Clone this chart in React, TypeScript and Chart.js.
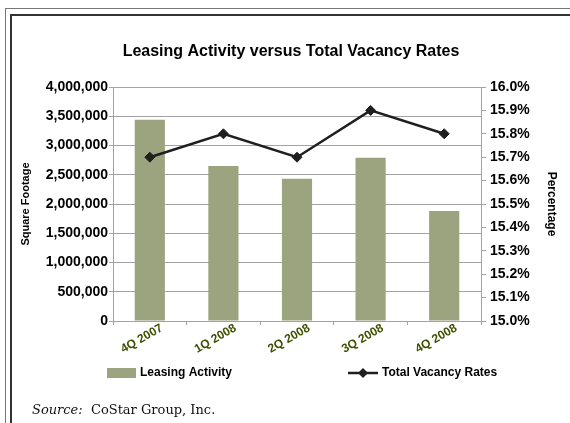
import React, { useEffect, useRef } from "react";
import { Chart, registerables } from "chart.js";

Chart.register(...registerables);

const categories = ["4Q 2007", "1Q 2008", "2Q 2008", "3Q 2008", "4Q 2008"];
const leasingActivity = [3440000, 2650000, 2430000, 2790000, 1880000];
const vacancyRates = [15.7, 15.8, 15.7, 15.9, 15.8];
const leftTicks = { min: 0, max: 4000000, step: 500000 };
const rightTicks = { min: 15.0, max: 16.0, step: 0.1 };

const BAR_COLOR = "#9ca37f";
const LINE_COLOR = "#1f1f1f";
const GRID = "#a3a3a3";
const FONT = "'Liberation Sans', Arial, sans-serif";

const legendPlugin = {
  id: "customLegend",
  afterDraw(chart: any) {
    const { ctx, chartArea } = chart;
    const y = 373;
    ctx.save();
    ctx.font = `bold 12px ${FONT}`;
    ctx.textBaseline = "middle";
    const bx = chartArea.left - 6;
    ctx.fillStyle = BAR_COLOR;
    ctx.fillRect(bx, y - 5, 29, 10);
    ctx.fillStyle = "#000";
    ctx.fillText("Leasing Activity", bx + 33, y);
    const lx = chartArea.left + 235;
    ctx.strokeStyle = LINE_COLOR;
    ctx.lineWidth = 2.5;
    ctx.beginPath();
    ctx.moveTo(lx, y);
    ctx.lineTo(lx + 30, y);
    ctx.stroke();
    ctx.fillStyle = LINE_COLOR;
    ctx.beginPath();
    const cx = lx + 15;
    ctx.moveTo(cx, y - 5);
    ctx.lineTo(cx + 5, y);
    ctx.lineTo(cx, y + 5);
    ctx.lineTo(cx - 5, y);
    ctx.closePath();
    ctx.fill();
    ctx.fillStyle = "#000";
    ctx.fillText("Total Vacancy Rates", lx + 34, y);
    ctx.restore();
  },
};

export default function App() {
  const ref = useRef<HTMLCanvasElement>(null);

  useEffect(() => {
    if (!ref.current) return;
    const chart = new Chart(ref.current, {
      type: "bar",
      data: {
        labels: categories,
        datasets: [
          {
            type: "line",
            label: "Total Vacancy Rates",
            data: vacancyRates,
            yAxisID: "y1",
            borderColor: LINE_COLOR,
            borderWidth: 2.5,
            pointStyle: "rectRot",
            pointRadius: 5,
            pointBackgroundColor: LINE_COLOR,
            pointBorderColor: LINE_COLOR,
            pointBorderWidth: 1,
            tension: 0,
            order: 1,
          } as any,
          {
            type: "bar",
            label: "Leasing Activity",
            data: leasingActivity,
            yAxisID: "y",
            backgroundColor: BAR_COLOR,
            borderWidth: 0,
            barPercentage: 0.41,
            categoryPercentage: 1.0,
            order: 2,
          },
        ],
      },
      options: {
        animation: false,
        responsive: false,
        maintainAspectRatio: false,
        layout: { padding: { left: 15, right: 3, top: 42, bottom: 52 } },
        plugins: {
          legend: { display: false },
          tooltip: { enabled: false },
          title: {
            display: true,
            text: "Leasing Activity versus Total Vacancy Rates",
            color: "#000",
            font: { family: FONT, size: 16, weight: "bold" },
            padding: { top: 0, bottom: 25.8 },
          },
        },
        scales: {
          x: {
            grid: {
              display: true,
              drawOnChartArea: false,
              drawTicks: true,
              tickLength: 4,
              color: GRID,
              offset: true,
            },
            border: { color: GRID, width: 1 },
            ticks: {
              autoSkip: false,
              minRotation: 30,
              maxRotation: 30,
              labelOffset: 12,
              padding: -4,
              color: "#3c5000",
              font: { family: FONT, size: 12, weight: "bold" },
            },
            afterFit(scale: any) {
              scale.height = 50;
            },
          },
          y: {
            position: "left",
            min: leftTicks.min,
            max: leftTicks.max,
            ticks: {
              stepSize: leftTicks.step,
              padding: 1,
              color: "#000",
              font: { family: FONT, size: 14, weight: "bold" },
              callback: (v: any) => Number(v).toLocaleString("en-US"),
            },
            grid: { color: GRID, tickLength: 4, lineWidth: 1 },
            border: { color: GRID, width: 1 },
            title: {
              display: true,
              text: "Square Footage",
              color: "#000",
              font: { family: FONT, size: 11, weight: "bold" },
              padding: { top: 4, bottom: 4 },
            },
            afterFit(scale: any) {
              scale.width = 98;
            },
          },
          y1: {
            position: "right",
            min: rightTicks.min,
            max: rightTicks.max,
            ticks: {
              stepSize: rightTicks.step,
              padding: 4,
              color: "#000",
              font: { family: FONT, size: 14, weight: "bold" },
              callback: (v: any) => Number(v).toFixed(1) + "%",
            },
            grid: { drawOnChartArea: false, color: GRID, tickLength: 5 },
            border: { color: GRID, width: 1 },
            title: {
              display: true,
              text: "Percentage",
              color: "#000",
              font: { family: FONT, size: 12, weight: "bold" },
              padding: { top: 8, bottom: 4 },
            },
            afterFit(scale: any) {
              scale.width = 86;
            },
          },
        },
      },
      plugins: [legendPlugin],
    });
    return () => chart.destroy();
  }, []);

  return (
    <div
      style={{
        position: "fixed",
        left: 0,
        top: 0,
        width: 570,
        height: 423,
        background: "#fff",
        overflow: "hidden",
      }}
    >
      <div style={{ position: "absolute", left: 5, top: 8, width: 600, height: 500, borderLeft: "1.5px solid #777", borderTop: "1.5px solid #777" }} />
      <div style={{ position: "absolute", left: 10, top: 14, width: 600, height: 500, borderLeft: "2px solid #333", borderTop: "2px solid #333" }} />
      <canvas ref={ref} width={570} height={423} style={{ position: "absolute", left: 0, top: 0, width: 570, height: 423 }} />
      <div
        style={{
          position: "absolute",
          left: 32,
          top: 402,
          fontFamily: "'DejaVu Serif', serif",
          fontSize: 13,
          color: "#111",
          whiteSpace: "pre",
        }}
      >
        <i>Source:</i>
        {"  CoStar Group, Inc."}
      </div>
    </div>
  );
}
